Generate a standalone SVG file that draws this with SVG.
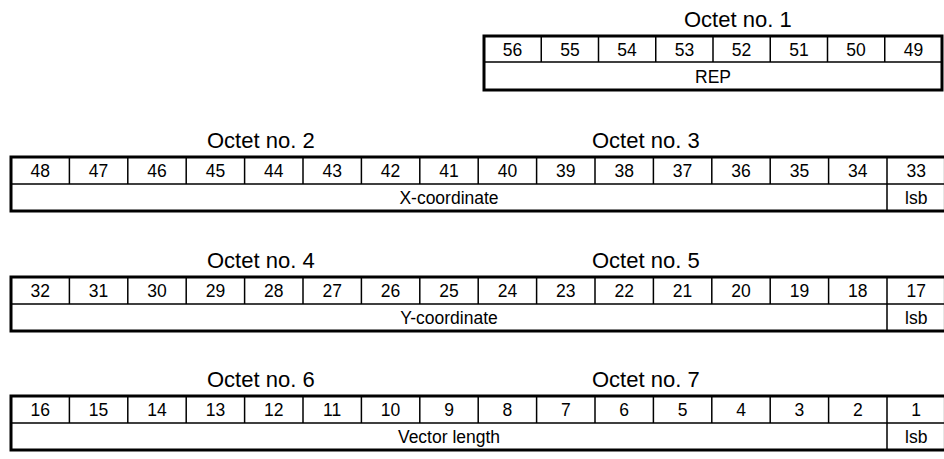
<svg xmlns="http://www.w3.org/2000/svg" width="944" height="459" viewBox="0 0 944 459">
  <style>
    text { font-family: "Liberation Sans", Arial, sans-serif; fill: #000; }
    .title { font-size: 22px; }
    .cell { font-size: 17.5px; text-anchor: middle; }
    .frame { fill: #fff; stroke: #000; stroke-width: 3; }
    .rule { stroke: #000; stroke-width: 1.5; fill: none; }
  </style>
  <rect width="944" height="459" fill="#fff"/>

  <!-- Octet 1: REP field (bits 56..49) -->
  <g id="octet1">
    <text class="title" x="684" y="27">Octet no. 1</text>
    <rect class="frame" x="484" y="36" width="458" height="54"/>
    <path class="rule" d="M484 62H942 M541.25 36V62 M598.5 36V62 M655.75 36V62 M713 36V62 M770.25 36V62 M827.5 36V62 M884.75 36V62"/>
    <text class="cell" x="512.6" y="55.5">56</text>
    <text class="cell" x="569.9" y="55.5">55</text>
    <text class="cell" x="627.1" y="55.5">54</text>
    <text class="cell" x="684.4" y="55.5">53</text>
    <text class="cell" x="741.6" y="55.5">52</text>
    <text class="cell" x="798.9" y="55.5">51</text>
    <text class="cell" x="856.1" y="55.5">50</text>
    <text class="cell" x="913.4" y="55.5">49</text>
    <text class="cell" x="713" y="82.5">REP</text>
  </g>

  <!-- Octets 2-3: X-coordinate (bits 48..33) -->
  <g id="octet2-3" transform="translate(0,157)">
    <text class="title" x="207" y="-9">Octet no. 2</text>
    <text class="title" x="592" y="-9">Octet no. 3</text>
    <rect class="frame" x="11" y="0" width="934.4" height="54"/>
    <path class="rule" d="M11 27H945 M69.4 0V27 M127.8 0V27 M186.2 0V27 M244.6 0V27 M303 0V27 M361.4 0V27 M419.8 0V27 M478.2 0V27 M536.6 0V27 M595 0V27 M653.4 0V27 M711.8 0V27 M770.2 0V27 M828.6 0V27 M887 0V54"/>
    <text class="cell" x="40.2" y="20">48</text>
    <text class="cell" x="98.6" y="20">47</text>
    <text class="cell" x="157" y="20">46</text>
    <text class="cell" x="215.4" y="20">45</text>
    <text class="cell" x="273.8" y="20">44</text>
    <text class="cell" x="332.2" y="20">43</text>
    <text class="cell" x="390.6" y="20">42</text>
    <text class="cell" x="449" y="20">41</text>
    <text class="cell" x="507.4" y="20">40</text>
    <text class="cell" x="565.8" y="20">39</text>
    <text class="cell" x="624.2" y="20">38</text>
    <text class="cell" x="682.6" y="20">37</text>
    <text class="cell" x="741" y="20">36</text>
    <text class="cell" x="799.4" y="20">35</text>
    <text class="cell" x="857.8" y="20">34</text>
    <text class="cell" x="916.2" y="20">33</text>
    <text class="cell" x="449" y="47">X-coordinate</text>
    <text class="cell" x="916.2" y="47">lsb</text>
  </g>

  <!-- Octets 4-5: Y-coordinate (bits 32..17) -->
  <g id="octet4-5" transform="translate(0,277)">
    <text class="title" x="207" y="-9">Octet no. 4</text>
    <text class="title" x="592" y="-9">Octet no. 5</text>
    <rect class="frame" x="11" y="0" width="934.4" height="54"/>
    <path class="rule" d="M11 27H945 M69.4 0V27 M127.8 0V27 M186.2 0V27 M244.6 0V27 M303 0V27 M361.4 0V27 M419.8 0V27 M478.2 0V27 M536.6 0V27 M595 0V27 M653.4 0V27 M711.8 0V27 M770.2 0V27 M828.6 0V27 M887 0V54"/>
    <text class="cell" x="40.2" y="20">32</text>
    <text class="cell" x="98.6" y="20">31</text>
    <text class="cell" x="157" y="20">30</text>
    <text class="cell" x="215.4" y="20">29</text>
    <text class="cell" x="273.8" y="20">28</text>
    <text class="cell" x="332.2" y="20">27</text>
    <text class="cell" x="390.6" y="20">26</text>
    <text class="cell" x="449" y="20">25</text>
    <text class="cell" x="507.4" y="20">24</text>
    <text class="cell" x="565.8" y="20">23</text>
    <text class="cell" x="624.2" y="20">22</text>
    <text class="cell" x="682.6" y="20">21</text>
    <text class="cell" x="741" y="20">20</text>
    <text class="cell" x="799.4" y="20">19</text>
    <text class="cell" x="857.8" y="20">18</text>
    <text class="cell" x="916.2" y="20">17</text>
    <text class="cell" x="449" y="47">Y-coordinate</text>
    <text class="cell" x="916.2" y="47">lsb</text>
  </g>

  <!-- Octets 6-7: Vector length (bits 16..1) -->
  <g id="octet6-7" transform="translate(0,396)">
    <text class="title" x="207" y="-9">Octet no. 6</text>
    <text class="title" x="592" y="-9">Octet no. 7</text>
    <rect class="frame" x="11" y="0" width="934.4" height="54"/>
    <path class="rule" d="M11 27H945 M69.4 0V27 M127.8 0V27 M186.2 0V27 M244.6 0V27 M303 0V27 M361.4 0V27 M419.8 0V27 M478.2 0V27 M536.6 0V27 M595 0V27 M653.4 0V27 M711.8 0V27 M770.2 0V27 M828.6 0V27 M887 0V54"/>
    <text class="cell" x="40.2" y="20">16</text>
    <text class="cell" x="98.6" y="20">15</text>
    <text class="cell" x="157" y="20">14</text>
    <text class="cell" x="215.4" y="20">13</text>
    <text class="cell" x="273.8" y="20">12</text>
    <text class="cell" x="332.2" y="20">11</text>
    <text class="cell" x="390.6" y="20">10</text>
    <text class="cell" x="449" y="20">9</text>
    <text class="cell" x="507.4" y="20">8</text>
    <text class="cell" x="565.8" y="20">7</text>
    <text class="cell" x="624.2" y="20">6</text>
    <text class="cell" x="682.6" y="20">5</text>
    <text class="cell" x="741" y="20">4</text>
    <text class="cell" x="799.4" y="20">3</text>
    <text class="cell" x="857.8" y="20">2</text>
    <text class="cell" x="916.2" y="20">1</text>
    <text class="cell" x="449" y="47">Vector length</text>
    <text class="cell" x="916.2" y="47">lsb</text>
  </g>
</svg>
